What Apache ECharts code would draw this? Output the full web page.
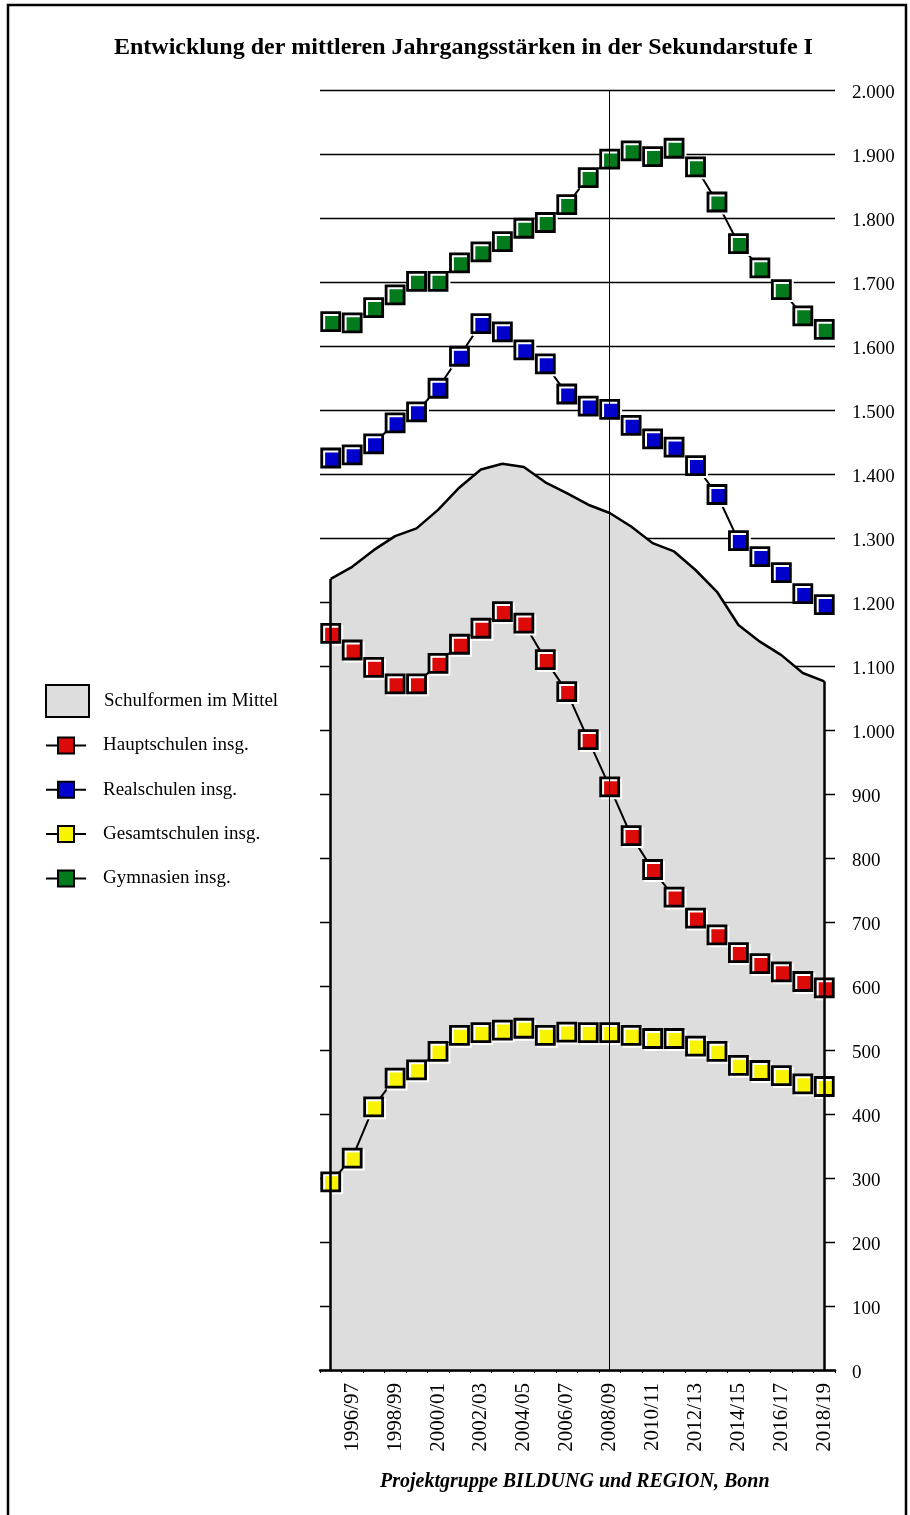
<!DOCTYPE html>
<html>
<head>
<meta charset="utf-8">
<script src="https://cdn.jsdelivr.net/npm/echarts@6/dist/echarts.min.js"></script>
<style>html,body{margin:0;padding:0;background:#fff}#c{width:910px;height:1515px}</style>
</head>
<body>
<div id="c"></div>
<script>
const categories = ['1995/96','1996/97','1997/98','1998/99','1999/00','2000/01','2001/02','2002/03','2003/04','2004/05','2005/06','2006/07','2007/08','2008/09','2009/10','2010/11','2011/12','2012/13','2013/14','2014/15','2015/16','2016/17','2017/18','2018/19'];
const mittel = [1236,1255,1281,1303,1315,1344,1379,1407,1416,1411,1387,1370,1352,1339,1318,1292,1279,1250,1216,1164,1138,1117,1089,1076];
const haupt  = [1151,1125,1098,1072,1072,1104,1134,1159,1185,1167,1110,1060,985,911,835,782,739,706,680,652,635,622,607,597];
const real   = [1425,1430,1447,1480,1497,1534,1584,1635,1622,1594,1572,1525,1506,1501,1476,1455,1442,1413,1368,1296,1271,1246,1213,1196];
const gesamt = [294,331,411,456,469,498,523,527,531,534,523,528,527,527,523,518,518,506,498,476,468,460,447,443];
const gym    = [1638,1636,1660,1680,1701,1701,1730,1747,1763,1784,1793,1821,1863,1892,1905,1896,1909,1880,1825,1760,1722,1688,1647,1626];
const currentYear = '2008/09';
const titleText = 'Entwicklung der mittleren Jahrgangsstärken in der Sekundarstufe I';
const sourceText = 'Projektgruppe BILDUNG und REGION, Bonn';
const names = ['Schulformen im Mittel','Hauptschulen insg.','Realschulen insg.','Gesamtschulen insg.','Gymnasien insg.'];

const FONT = 'Liberation Serif';
const chart = echarts.init(document.getElementById('c'), null, {renderer:'canvas'});

function fmt(v){ return '{a|' + (v >= 1000 ? String(v).replace(/(\d)(\d{3})$/, '$1.$2') : String(v)) + '}'; }

function markerSeries(name, data, color){
  return {
    name: name, type: 'line', data: data, z: 3,
    symbol: 'rect', symbolSize: 18, showSymbol: true, showAllSymbol: true,
    lineStyle: {color:'#000', width:2},
    itemStyle: {color: color, borderColor:'#000', borderWidth:2.8,
      shadowColor:'#fff', shadowOffsetX:2, shadowOffsetY:2, shadowBlur:0},
    emphasis: {disabled:true}, animation:false
  };
}

const option = {
  backgroundColor: '#fff',
  animation: false,
  title: {
    text: titleText, left: 109, top: 31,
    textStyle: {fontFamily: FONT, fontWeight:'bold', fontSize: 24, color:'#000'}
  },
  graphic: [
    {type:'rect', shape:{x:8, y:5, width:898, height:1600}, style:{fill:'none', stroke:'#000', lineWidth:2.5}, silent:true},
    {type:'text', left: 380, top: 1472, style:{text: sourceText, font: 'italic bold 20px "Liberation Serif"', fill:'#000'}, silent:true}
  ],
  legend: [
    {
      orient:'vertical', left: 45, top: 684, padding: 0, itemWidth: 43, itemHeight: 32,
      data: [{name: names[0], icon:'rect', itemStyle:{color:'#dddddd', borderColor:'#000', borderWidth:2}}],
      textStyle: {fontFamily: FONT, fontSize: 19, color:'#000', padding:[0,0,0,10]},
      selectedMode: false
    },
    {
      orient:'vertical', left: 45, top: 736, padding: 0, itemWidth: 40, itemHeight: 20, itemGap: 25.3,
      data: names.slice(1),
      textStyle: {fontFamily: FONT, fontSize: 19, color:'#000', padding:[0,0,0,12]},
      selectedMode: false
    }
  ],
  grid: {left: 320, right: 75, top: 90, bottom: 145, containLabel: false},
  xAxis: {
    type: 'category', data: categories, boundaryGap: true, z: 5,
    axisLine: {lineStyle:{color:'#000', width:2.5}},
    axisTick: {show:true, length: 3, interval: 0, lineStyle:{color:'#000', width:1}},
    axisLabel: {rotate: 90, interval: function(i){ return i % 2 === 1; }, margin: 13,
      fontFamily: FONT, fontSize: 21, color:'#000'},
    splitLine: {show:false}
  },
  yAxis: {
    type: 'value', position: 'right', min: 0, max: 2000, interval: 100,
    axisLine: {show:false}, axisTick: {show:false},
    axisLabel: {formatter: fmt, margin: 17, align:'left', fontFamily: FONT, fontSize: 19, color:'#000',
      rich: {a: {fontFamily: FONT, fontSize: 19, color:'#000', padding:[7,0,0,0]}}},
    splitLine: {show:true, lineStyle:{color:'#000', width:1.3}}
  },
  series: [
    {
      name: names[0], type:'line', data: mittel, z: 2,
      showSymbol: false, symbol:'none',
      lineStyle: {color:'#000', width:2.5},
      areaStyle: {color:'#dddddd', opacity:1},
      itemStyle: {color:'#dddddd', borderColor:'#000', borderWidth:2},
      emphasis: {disabled:true},
      markLine: {
        silent: true, symbol: ['none','none'], label:{show:false},
        data: [
          {xAxis: currentYear, lineStyle:{color:'#000', width:1, type:'solid'}},
          [{coord:[categories[0], 0], lineStyle:{color:'#000', width:2.5, type:'solid'}}, {coord:[categories[0], mittel[0]]}],
          [{coord:[categories[categories.length-1], 0], lineStyle:{color:'#000', width:2.5, type:'solid'}}, {coord:[categories[categories.length-1], mittel[mittel.length-1]]}]
        ]
      }
    },
    markerSeries(names[1], haupt, '#dd0a0a'),
    markerSeries(names[2], real, '#0000cc'),
    markerSeries(names[3], gesamt, '#f8f300'),
    markerSeries(names[4], gym, '#037a1c')
  ]
};
chart.setOption(option);
</script>
</body>
</html>
